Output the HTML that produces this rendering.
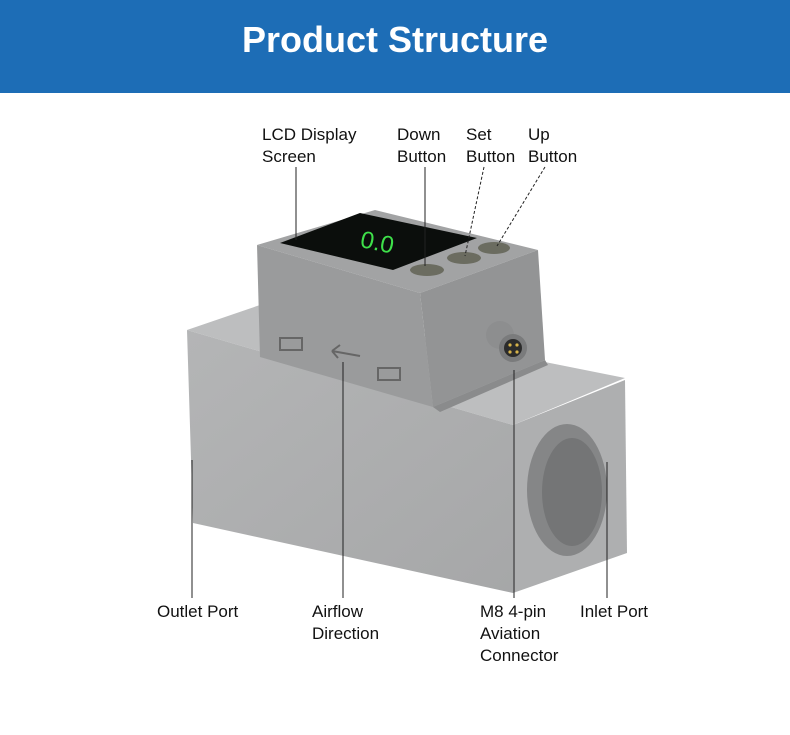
<!DOCTYPE html>
<html><head><meta charset="utf-8"><style>
html,body{margin:0;padding:0;background:#fff}
body{width:790px;height:735px;position:relative;overflow:hidden;font-family:"Liberation Sans",sans-serif}
.hdr{position:absolute;left:0;top:0;width:790px;height:93px;background:#1d6db6}
.hdr div{color:#fff;font-weight:bold;font-size:36px;text-align:center;line-height:80px}
.t{position:absolute;font-size:17px;line-height:22px;color:#111}
</style></head><body>
<div class="hdr"><div>Product Structure</div></div>
<svg width="790" height="735" style="position:absolute;left:0;top:0">
<defs>
<linearGradient id="fr" x1="0" y1="0" x2="1" y2="1"><stop offset="0" stop-color="#b4b5b6"/><stop offset="1" stop-color="#a6a7a8"/></linearGradient>
</defs>
<!-- main block -->
<polygon points="187,330 260,305 625,378 513,425" fill="#bdbebf"/>
<polygon points="187,330 513,425 513,593 193,523" fill="url(#fr)"/>
<polygon points="513,425 625,380 627,553 513,593" fill="#aeafb0"/>
<ellipse cx="567" cy="490" rx="40" ry="66" fill="#858687"/>
<ellipse cx="572" cy="492" rx="30" ry="54" fill="#747576"/>
<!-- display head -->
<polygon points="257,245 375,210 538,250 420,293" fill="#a2a3a4"/>
<polygon points="257,245 420,293 433,407 260,357" fill="#9a9b9c"/>
<polygon points="420,293 538,250 545,360 433,407" fill="#939495"/>
<polygon points="433,407 545,360 548,365 440,412" fill="#8a8b8c"/>
<polygon points="280,243 360,213 477,238 393,270" fill="#0b0e0c"/>
<text x="360" y="250" fill="#3ee04a" font-size="24" font-family="Liberation Sans" transform="rotate(12 375 245)">0.0</text>
<ellipse cx="427" cy="270" rx="17" ry="6" fill="#6b6c60"/>
<ellipse cx="464" cy="258" rx="17" ry="6" fill="#6b6c60"/>
<ellipse cx="494" cy="248" rx="16" ry="6" fill="#6b6c60"/>
<rect x="280" y="338" width="22" height="12" fill="none" stroke="#666" stroke-width="2"/>
<rect x="378" y="368" width="22" height="12" fill="none" stroke="#666" stroke-width="2"/>
<path d="M332 351 L360 356 M332 351 L340 345 M332 351 L338 358" stroke="#666" stroke-width="2" fill="none"/>
<!-- connector -->
<circle cx="500" cy="335" r="14" fill="#8d8e8f"/>
<circle cx="513" cy="348" r="14" fill="#7a7b7c"/>
<circle cx="513" cy="348" r="9" fill="#2b2b2b"/>
<circle cx="510" cy="345" r="1.6" fill="#d7b34a"/><circle cx="517" cy="345" r="1.6" fill="#d7b34a"/>
<circle cx="510" cy="352" r="1.6" fill="#d7b34a"/><circle cx="517" cy="352" r="1.6" fill="#d7b34a"/>
<!-- leader lines -->
<g stroke="#222" stroke-width="1" fill="none">
<line x1="296" y1="167" x2="296" y2="240"/>
<line x1="425" y1="167" x2="425" y2="266"/>
<line x1="484" y1="167" x2="465" y2="256" stroke-dasharray="3,2"/>
<line x1="545" y1="167" x2="497" y2="246" stroke-dasharray="3,2"/>
<line x1="192" y1="460" x2="192" y2="598"/>
<line x1="343" y1="362" x2="343" y2="598"/>
<line x1="514" y1="370" x2="514" y2="598"/>
<line x1="607" y1="462" x2="607" y2="598"/>
</g>
</svg>
<div class="t" style="left:262px;top:124px">LCD Display<br>Screen</div>
<div class="t" style="left:397px;top:124px">Down<br>Button</div>
<div class="t" style="left:466px;top:124px">Set<br>Button</div>
<div class="t" style="left:528px;top:124px">Up<br>Button</div>
<div class="t" style="left:157px;top:601px">Outlet Port</div>
<div class="t" style="left:312px;top:601px">Airflow<br>Direction</div>
<div class="t" style="left:480px;top:601px">M8 4-pin<br>Aviation<br>Connector</div>
<div class="t" style="left:580px;top:601px">Inlet Port</div>
</body></html>
